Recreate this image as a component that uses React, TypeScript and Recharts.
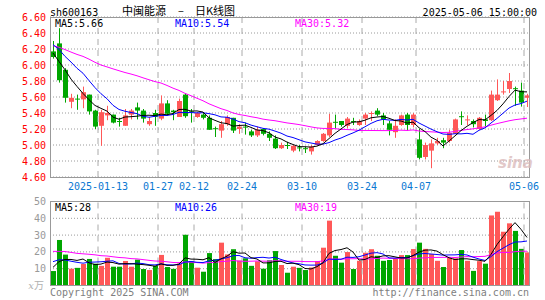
import React from 'react';
import { ComposedChart, Bar, Line, XAxis, YAxis, CartesianGrid, ReferenceLine } from 'recharts';

const dates = [
  '2024-12-31', '2025-01-02', '2025-01-03', '2025-01-06', '2025-01-07', '2025-01-08', '2025-01-09', '2025-01-10', '2025-01-13', '2025-01-14',
  '2025-01-15', '2025-01-16', '2025-01-17', '2025-01-20', '2025-01-21', '2025-01-22', '2025-01-23', '2025-01-24', '2025-01-27', '2025-02-05',
  '2025-02-06', '2025-02-07', '2025-02-10', '2025-02-11', '2025-02-12', '2025-02-13', '2025-02-14', '2025-02-17', '2025-02-18', '2025-02-19',
  '2025-02-20', '2025-02-21', '2025-02-24', '2025-02-25', '2025-02-26', '2025-02-27', '2025-02-28', '2025-03-03', '2025-03-04', '2025-03-05',
  '2025-03-06', '2025-03-07', '2025-03-10', '2025-03-11', '2025-03-12', '2025-03-13', '2025-03-14', '2025-03-17', '2025-03-18', '2025-03-19',
  '2025-03-20', '2025-03-21', '2025-03-24', '2025-03-25', '2025-03-26', '2025-03-27', '2025-03-28', '2025-03-31', '2025-04-01', '2025-04-02',
  '2025-04-03', '2025-04-07', '2025-04-08', '2025-04-09', '2025-04-10', '2025-04-11', '2025-04-14', '2025-04-15', '2025-04-16', '2025-04-17',
  '2025-04-18', '2025-04-21', '2025-04-22', '2025-04-23', '2025-04-24', '2025-04-25', '2025-04-28', '2025-04-29', '2025-04-30', '2025-05-06',
];

const opens = [
  6.17, 6.27, 5.94, 5.54, 5.58, 5.57, 5.63, 5.43, 5.24, 5.37,
  5.38, 5.30, 5.24, 5.38, 5.47, 5.43, 5.26, 5.40, 5.33, 5.52,
  5.43, 5.35, 5.63, 5.42, 5.35, 5.38, 5.34, 5.21, 5.18, 5.26,
  5.34, 5.20, 5.23, 5.17, 5.12, 5.20, 5.14, 5.08, 4.96, 5.00,
  4.93, 4.97, 4.96, 4.92, 5.00, 5.05, 5.12, 5.29, 5.30, 5.24,
  5.30, 5.25, 5.33, 5.39, 5.43, 5.37, 5.27, 5.16, 5.25, 5.38,
  5.25, 5.07, 4.85, 4.93, 5.02, 5.06, 5.05, 5.14, 5.36, 5.31,
  5.30, 5.20, 5.32, 5.31, 5.56, 5.66, 5.70, 5.71, 5.68, 5.59,
];

const highs = [
  6.30, 6.46, 5.96, 5.64, 5.63, 5.73, 5.63, 5.44, 5.44, 5.49,
  5.38, 5.34, 5.45, 5.45, 5.53, 5.45, 5.35, 5.44, 5.62, 5.56,
  5.44, 5.58, 5.65, 5.45, 5.41, 5.40, 5.37, 5.23, 5.30, 5.37,
  5.34, 5.26, 5.28, 5.19, 5.23, 5.21, 5.17, 5.12, 5.03, 5.04,
  5.00, 5.00, 4.98, 5.00, 5.06, 5.15, 5.39, 5.38, 5.30, 5.35,
  5.34, 5.32, 5.40, 5.42, 5.46, 5.40, 5.30, 5.32, 5.38, 5.40,
  5.40, 5.20, 5.03, 5.07, 5.09, 5.09, 5.19, 5.33, 5.42, 5.37,
  5.32, 5.35, 5.38, 5.68, 5.82, 5.80, 5.90, 5.73, 5.78, 5.64,
];

const lows = [
  6.08, 5.78, 5.53, 5.46, 5.44, 5.46, 5.38, 5.20, 4.99, 5.31,
  5.27, 5.23, 5.24, 5.32, 5.32, 5.28, 5.24, 5.24, 5.31, 5.37,
  5.31, 5.35, 5.34, 5.28, 5.34, 5.32, 5.19, 5.10, 5.09, 5.24,
  5.15, 5.14, 5.13, 5.10, 5.10, 5.12, 5.05, 4.95, 4.95, 4.95,
  4.91, 4.92, 4.90, 4.88, 4.99, 5.04, 5.10, 5.21, 5.23, 5.21,
  5.25, 5.24, 5.25, 5.30, 5.36, 5.25, 5.12, 5.09, 5.24, 5.18,
  5.22, 4.82, 4.82, 4.71, 5.00, 4.96, 5.03, 5.14, 5.25, 5.25,
  5.22, 5.19, 5.23, 5.30, 5.55, 5.63, 5.65, 5.49, 5.48, 5.475,
];

const closes = [
  6.10, 5.81, 5.59, 5.59, 5.57, 5.66, 5.42, 5.23, 5.41, 5.40,
  5.28, 5.29, 5.37, 5.43, 5.43, 5.33, 5.30, 5.35, 5.52, 5.39,
  5.41, 5.55, 5.36, 5.41, 5.40, 5.34, 5.19, 5.20, 5.26, 5.35,
  5.18, 5.23, 5.22, 5.12, 5.19, 5.14, 5.09, 4.96, 5.00, 4.99,
  4.99, 4.96, 4.95, 4.98, 5.05, 5.14, 5.28, 5.28, 5.25, 5.33,
  5.29, 5.30, 5.38, 5.40, 5.38, 5.32, 5.19, 5.24, 5.37, 5.25,
  5.38, 4.84, 5.00, 5.02, 5.05, 5.03, 5.15, 5.32, 5.35, 5.32,
  5.26, 5.34, 5.30, 5.63, 5.63, 5.67, 5.80, 5.70, 5.53, 5.62,
];

// volume in 万手
const volumes = [
  8.6, 27.1, 18.4, 10.0, 10.5, 12.8, 15.8, 13.0, 11.7, 16.5,
  11.2, 11.2, 14.6, 11.2, 15.4, 9.8, 9.2, 11.7, 18.2, 11.0,
  9.9, 13.0, 30.2, 14.5, 10.6, 8.2, 19.3, 15.7, 25.5, 18.5,
  21.6, 14.9, 16.2, 11.7, 14.4, 10.0, 15.0, 20.5, 12.2, 7.6,
  11.2, 10.5, 9.2, 10.7, 14.6, 22.5, 38.6, 17.7, 13.6, 19.9,
  9.8, 14.7, 19.5, 21.6, 17.7, 14.7, 15.2, 16.0, 18.1, 18.1,
  21.7, 25.5, 21.8, 18.7, 14.7, 11.0, 16.4, 16.2, 21.1, 14.7,
  8.7, 14.5, 13.0, 41.7, 43.9, 32.0, 37.0, 32.5, 21.8, 19.7,
];

// closes / volumes of the 29 sessions before the visible window
const priorCloses = [
  6.40, 6.48, 6.52, 6.45, 6.40, 6.45, 6.42, 6.43,
  6.10, 6.02, 5.98, 6.05, 6.00, 6.08, 6.10, 6.02, 6.05, 6.05,
  6.30, 6.42, 6.40, 6.46, 6.30, 6.35, 6.28, 6.34, 6.11, 6.17, 6.03,
];
const priorVolumes = [
  26, 22, 25, 28, 21, 24, 23, 27, 22, 25,
  24, 21, 25, 20, 23, 22, 24, 21, 22, 22,
  16, 19, 18, 17, 18, 10.1, 11.9, 10.0, 13.4,
];

const tickDates = ['2025-01-13', '2025-01-27', '2025-02-12', '2025-02-24', '2025-03-10', '2025-03-24', '2025-04-07', '2025-05-06'];
const tickLabels = ['2025-01-13', '01-27', '02-12', '02-24', '03-10', '03-24', '04-07', '05-06'];
const priceTicks = [4.6, 4.8, 5.0, 5.2, 5.4, 5.6, 5.8, 6.0, 6.2, 6.4, 6.6];
const volTicks = [0, 10, 20, 30, 40, 50];

const RED = '#ff5858';
const GREEN = '#00a600';
const MONO = '"DejaVu Sans Mono", monospace';

function movingAvg(values: number[], prior: number[], n: number): number[] {
  const all = [...prior, ...values];
  return values.map((_, i) => {
    const end = prior.length + i + 1;
    let s = 0;
    for (let k = end - n; k < end; k++) s += all[k];
    return s / n;
  });
}

const ma5 = movingAvg(closes, priorCloses, 5);
const ma10 = movingAvg(closes, priorCloses, 10);
const ma30 = movingAvg(closes, priorCloses, 30);
const vma5 = movingAvg(volumes, priorVolumes, 5);
const vma10 = movingAvg(volumes, priorVolumes, 10);
const vma30 = movingAvg(volumes, priorVolumes, 30);

const data = dates.map((d, i) => ({
  date: d,
  open: opens[i],
  high: highs[i],
  low: lows[i],
  close: closes[i],
  range: [lows[i], highs[i]],
  vol: volumes[i],
  ma5: ma5[i],
  ma10: ma10[i],
  ma30: ma30[i],
  vma5: vma5[i],
  vma10: vma10[i],
  vma30: vma30[i],
}));

const Candle = (props: any) => {
  const { x, y, width, height, payload } = props;
  if (!payload || height == null) return null;
  const { open, close, high, low } = payload;
  const color = close >= open ? RED : GREEN;
  const ppu = high > low ? height / (high - low) : 0;
  const top = y + (high - Math.max(open, close)) * ppu;
  const bot = y + (high - Math.min(open, close)) * ppu;
  const bx = Math.floor(x);
  const bw = Math.round(width);
  return (
    <g>
      <rect x={bx + Math.floor(bw / 2)} y={y} width={1} height={Math.max(1, height)} fill={color} />
      <rect x={bx} y={top} width={bw} height={Math.max(1, bot - top)} fill={color} />
    </g>
  );
};

const VolBar = (props: any) => {
  const { x, y, width, height, payload } = props;
  if (!payload) return null;
  const color = payload.close >= payload.open ? RED : GREEN;
  return <rect x={Math.floor(x)} y={y} width={Math.round(width)} height={Math.max(0, height)} fill={color} />;
};

const PriceTick = (props: any) => {
  const { y, payload } = props;
  return (
    <text x={46} y={y} dy={3.5} textAnchor="end" fill="#ff0000" fontFamily={MONO} fontSize={10}>
      {Number(payload.value).toFixed(2)}
    </text>
  );
};

const VolTick = (props: any) => {
  const { y, payload } = props;
  if (payload.value === 0) {
    return (
      <text x={44} y={y} dy={3} textAnchor="end" fill="#b0b0b0" fontFamily='"Noto Sans CJK SC", sans-serif' fontSize={10}>
        <tspan fontStyle="italic" fontFamily='"DejaVu Serif", serif'>x</tspan>万
      </text>
    );
  }
  return (
    <text x={46} y={y} dy={3.5} textAnchor="end" fill="#999999" fontFamily={MONO} fontSize={10}>
      {payload.value}
    </text>
  );
};

const DateTick = (props: any) => {
  const { x, y, payload } = props;
  const idx = tickDates.indexOf(payload.value);
  return (
    <text x={x - 3} y={y} dy={12.5} textAnchor="middle" fill="#0a78d2" fontFamily={MONO} fontSize={10}>
      {idx >= 0 ? tickLabels[idx] : ''}
    </text>
  );
};

const vLines = (keyPrefix: string) =>
  tickDates.map((d) => (
    <ReferenceLine
      key={keyPrefix + d}
      x={d}
      position="start"
      stroke="#aaaaaa"
      strokeDasharray="6 5"
      strokeWidth={1}
      ifOverflow="extendDomain"
    />
  ));

export default function App() {
  return (
    <div style={{ position: 'absolute', left: 0, top: 0, width: 545, height: 300, background: '#fff', overflow: 'hidden' }}>
      <div style={{ position: 'absolute', left: 0, top: 0 }}>
        <ComposedChart width={545} height={200} data={data} margin={{ top: 17, right: 15, bottom: 0, left: 0 }}>
          <CartesianGrid vertical={false} stroke="#9a9a9a" strokeDasharray="1 2" />
          <XAxis
            dataKey="date"
            type="category"
            ticks={tickDates}
            interval={0}
            tickLine={false}
            axisLine={false}
            tickSize={0}
            tickMargin={0}
            height={23}
            tick={<DateTick />}
          />
          <YAxis
            type="number"
            domain={[4.6, 6.6]}
            ticks={priceTicks}
            interval={0}
            width={50}
            axisLine={false}
            tickLine={false}
            tick={<PriceTick />}
            allowDataOverflow
          />
          {vLines('p')}
          <Bar dataKey="range" barSize={5} shape={<Candle />} isAnimationActive={false} />
          <Line type="linear" dataKey="ma30" stroke="#ff00ff" strokeWidth={1} dot={false} isAnimationActive={false} />
          <Line type="linear" dataKey="ma10" stroke="#0000ff" strokeWidth={1} dot={false} isAnimationActive={false} />
          <Line type="linear" dataKey="ma5" stroke="#000000" strokeWidth={1} dot={false} isAnimationActive={false} />
        </ComposedChart>
      </div>
      <div style={{ position: 'absolute', left: 0, top: 190 }}>
        <ComposedChart width={545} height={100} data={data} margin={{ top: 11.5, right: 15, bottom: 4.5, left: 0 }}>
          <CartesianGrid vertical={false} stroke="#9a9a9a" strokeDasharray="1 2" />
          <XAxis dataKey="date" type="category" hide />
          <YAxis
            type="number"
            domain={[0, 50]}
            ticks={volTicks}
            interval={0}
            width={50}
            axisLine={false}
            tickLine={false}
            tick={<VolTick />}
            allowDataOverflow
          />
          {vLines('v')}
          <Bar dataKey="vol" barSize={5} shape={<VolBar />} isAnimationActive={false} />
          <Line type="linear" dataKey="vma30" stroke="#ff00ff" strokeWidth={1} dot={false} isAnimationActive={false} />
          <Line type="linear" dataKey="vma10" stroke="#0000ff" strokeWidth={1} dot={false} isAnimationActive={false} />
          <Line type="linear" dataKey="vma5" stroke="#000000" strokeWidth={1} dot={false} isAnimationActive={false} />
        </ComposedChart>
      </div>
      <svg width={545} height={300} style={{ position: 'absolute', left: 0, top: 0, pointerEvents: 'none' }}>
        <rect x={50.5} y={17.5} width={479} height={160} fill="none" stroke="#999999" strokeWidth={1} />
        <rect x={50.5} y={201.5} width={479} height={84} fill="none" stroke="#999999" strokeWidth={1} />
        <text x={50} y={12} dy={3.5} fontFamily={MONO} fontSize={10} fill="#000">sh600163</text>
        <text x={122} y={11} dy={4} fontFamily='"Noto Sans CJK SC", sans-serif' fontSize={11} fill="#000">中闽能源</text>
        <text x={178} y={11} dy={4} fontFamily='"Noto Sans CJK SC", sans-serif' fontSize={11} fill="#000">–</text>
        <text x={195} y={11} dy={4} fontFamily='"Noto Sans CJK SC", sans-serif' fontSize={11} fill="#000">日K线图</text>
        <text x={537} y={12} dy={3.5} textAnchor="end" fontFamily={MONO} fontSize={10} fill="#000">2025-05-06 15:00:00</text>
        <text x={55} y={23.5} dy={3.5} fontFamily={MONO} fontSize={10} fill="#000">MA5:5.66</text>
        <text x={175} y={23.5} dy={3.5} fontFamily={MONO} fontSize={10} fill="#0000ff">MA10:5.54</text>
        <text x={295} y={23.5} dy={3.5} fontFamily={MONO} fontSize={10} fill="#ff00ff">MA30:5.32</text>
        <text x={55} y={207} dy={3.5} fontFamily={MONO} fontSize={10} fill="#000">MA5:28</text>
        <text x={175} y={207} dy={3.5} fontFamily={MONO} fontSize={10} fill="#0000ff">MA10:26</text>
        <text x={295} y={207} dy={3.5} fontFamily={MONO} fontSize={10} fill="#ff00ff">MA30:19</text>
        <text x={498} y={168} fontFamily='"DejaVu Sans", sans-serif' fontStyle="italic" fontWeight="bold" fontSize={15} fill="#dcbcbc" opacity={0.8}>sina</text>
        <text x={50} y={292} dy={3.5} fontFamily={MONO} fontSize={10} fill="#808080">Copyright 2025 SINA.COM</text>
        <text x={529} y={292} dy={3.5} textAnchor="end" fontFamily={MONO} fontSize={10} fill="#808080">http://finance.sina.com.cn</text>
      </svg>
    </div>
  );
}
